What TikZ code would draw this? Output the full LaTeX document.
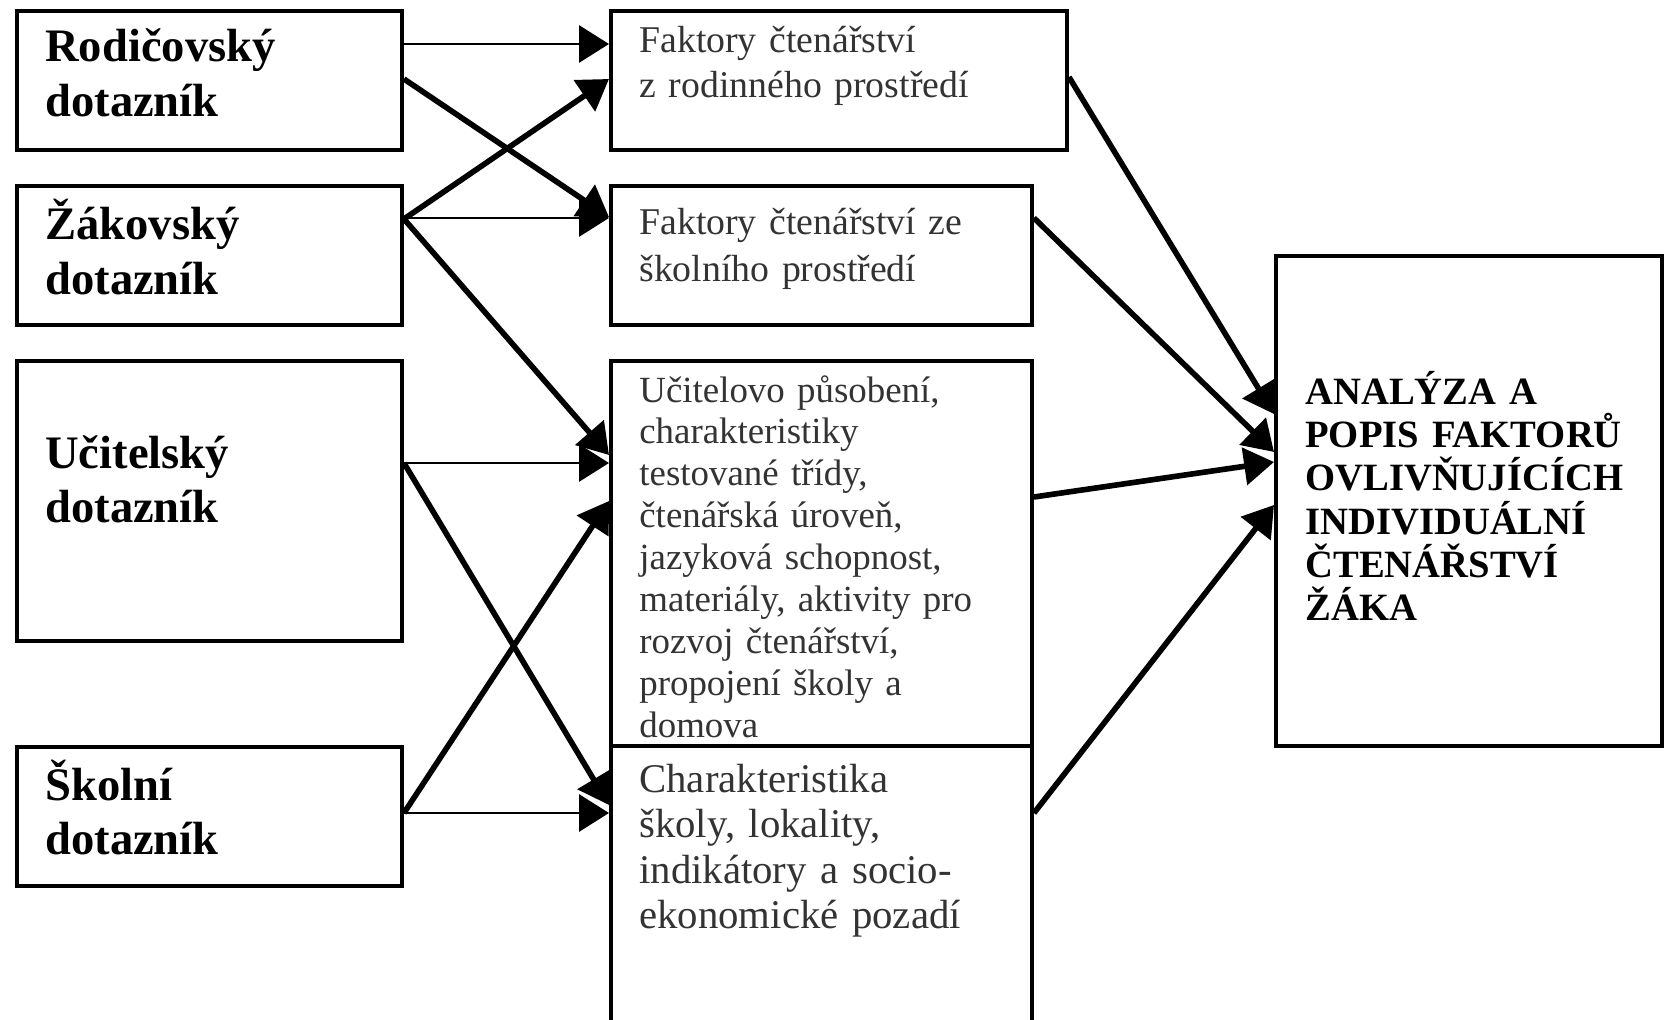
\documentclass[tikz,border=0pt]{standalone}
\usepackage{fontspec}
\setmainfont{Liberation Serif}
\usetikzlibrary{arrows.meta}

\begin{document}
\begin{tikzpicture}[x=0.02cm, y=-0.02cm]
    \useasboundingbox (0,0) rectangle (1666,1020);
    \tikzstyle{every node}=[draw=black, line width=2.3pt, anchor=north west, inner sep=0pt, minimum width=7.7cm, minimum height=2.78cm]
    \tikzstyle{link}=[line width=3.2pt, -{Triangle[length=17pt, width=21pt]}]
    \tikzstyle{thinlink}=[line width=1.7pt, -{Triangle[length=17pt, width=21pt]}]

    % dotazniky
    \node (rod) at (15,9) {};
    \node (zak) at (15,184) {};
    \node[minimum height=5.6cm] (uc) at (15,359) {};
    \node (sko) at (15,745) {};

    % faktory
    \node[minimum width=9.12cm] (m1) at (609,9) {};
    \node[minimum width=8.42cm] (m2) at (609,184) {};
    \node[minimum width=8.42cm, minimum height=7.7cm] (m3) at (609,359) {};
    \node[minimum width=8.42cm, minimum height=6cm] (m4) at (609,744) {};

    \node[minimum width=7.72cm, minimum height=9.8cm] (res) at (1274,254) {};

    \draw[thinlink] (rod.east |- 0,44) -- (m1.west |- 0,44);
    \draw[link] (rod.east |- 0,79) -- (m2.west |- 0,217);
    \draw[link] (zak.east |- 0,219) -- (m1.west |- 0,79);
    \draw[thinlink] (zak.east |- 0,218) -- (m2.west |- 0,218);
    \draw[link] (zak.east |- 0,219) -- (m3.west |- 0,455);
    \draw[thinlink] (uc.east |- 0,463) -- (m3.west |- 0,463);
    \draw[link] (uc.east |- 0,463) -- (m4.west |- 0,805);
    \draw[link] (sko.east |- 0,813) -- (m3.west |- 0,501);
    \draw[thinlink] (sko.east |- 0,813) -- (m4.west |- 0,813);

    \draw[link] (m1.east |- 0,77) -- (res.west |- 0,414);
    \draw[link] (m2.east |- 0,218) -- (res.west |- 0,452);
    \draw[link] (m3.east |- 0,497) -- (res.west |- 0,462);
    \draw[link] (m4.east |- 0,813) -- (res.west |- 0,505);

    % texty
    \tikzstyle{every node}=[anchor=base west, inner sep=0pt, text width=10cm, align=left]
    \tikzstyle{dotaz}=[font=\fontsize{26.5pt}{31pt}\selectfont\bfseries]
    \tikzstyle{faktor}=[text=black!80]
    \node[dotaz] (rodT) at (45,62) {Rodičovský\\dotazník};
    \node[dotaz] (zakT) at (45,240) {Žákovský\\dotazník};
    \node[dotaz] (ucT) at (45,468) {Učitelský\\dotazník};
    \node[dotaz] (skoT) at (45,800) {Školní\\dotazník};

    \node[faktor, font=\fontsize{21.5pt}{25.5pt}\selectfont] (m1T) at (639,53) {Faktory čtenářství\\z rodinného prostředí};
    \node[faktor, font=\fontsize{21.5pt}{26.6pt}\selectfont] (m2T) at (639,235) {Faktory čtenářství ze\\školního prostředí};
    \node[faktor, font=\fontsize{21pt}{23.9pt}\selectfont] (m3T) at (639,402) {Učitelovo působení,\\charakteristiky\\testované třídy,\\čtenářská úroveň,\\jazyková schopnost,\\materiály, aktivity pro\\rozvoj čtenářství,\\propojení školy a\\domova};
    \node[faktor, font=\fontsize{23.2pt}{25.9pt}\selectfont] (m4T) at (639,792) {Charakteristika\\školy, lokality,\\indikátory a socio-\\ekonomické pozadí};

    \node[font=\fontsize{22pt}{24.7pt}\selectfont\bfseries] (resT) at (1305,404) {ANALÝZA A\\POPIS FAKTORŮ\\OVLIVŇUJÍCÍCH\\INDIVIDUÁLNÍ\\ČTENÁŘSTVÍ\\ŽÁKA};
\end{tikzpicture}
\end{document}
